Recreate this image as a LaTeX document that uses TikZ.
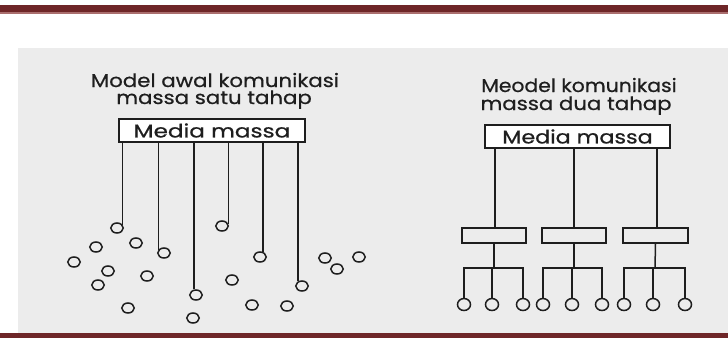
\documentclass[tikz,border=0pt]{standalone}
\usepackage{graphicx}
\usepackage{fontspec}
\setmainfont{Poppins}
\newfontfamily\ttlfont{Poppins}[FakeBold=0.6]
\usetikzlibrary{shapes.geometric}
\definecolor{barred}{RGB}{110,38,40}
\definecolor{barlight}{RGB}{170,110,110}
\definecolor{inkc}{RGB}{30,30,30}
\definecolor{paper}{RGB}{236,236,236}
\newcommand{\widen}[2]{\scalebox{#1}[1]{#2}}
\tikzset{
  ttl/.style={font=\ttlfont\fontsize{18.5}{18.5}\selectfont, text=inkc, inner sep=0pt, anchor=base},
  mbox/.style={draw=inkc, line width=1.5pt, fill=white, minimum width=186pt, minimum height=23pt, inner sep=0pt, font=\ttlfont\fontsize{18.5}{18.5}\selectfont, text=inkc},
  sbox/.style={draw=inkc, line width=1.4pt, minimum width=64pt, minimum height=15pt, inner sep=0pt},
  dot/.style={draw=inkc, line width=1.5pt, ellipse, minimum width=12.5pt, minimum height=10pt, inner sep=0pt},
  dotb/.style={draw=inkc, line width=1.5pt, ellipse, minimum width=13pt, minimum height=12pt, inner sep=0pt},
  wire/.style={draw=inkc, line width=1.5pt}
}
\begin{document}
\begin{tikzpicture}[x=1pt,y=-1pt]
\useasboundingbox (0,0) rectangle (728,338);
% page background
\fill[white] (0,0) rectangle (728,338);
\fill[paper] (18,48) rectangle (728,333);
% top and bottom bars
\fill[barred] (0,5) rectangle (728,12);
\fill[barlight] (0,12) rectangle (728,13.5);
\fill[barred] (0,333) rectangle (728,338);

% ---------- left diagram ----------
\node[ttl] (t1a) at (215,87) {\widen{1.15}{Model awal komunikasi}};
\node[ttl] (t1b) at (214,104) {\widen{1.15}{massa satu tahap}};
\node[mbox] (m1) at (212,130.5) {\raisebox{-1pt}{\widen{1.25}{Media massa}}};
\node[dot] (c1) at (117,228) {};
\node[dot] (c2) at (164,253) {};
\node[dot] (c3) at (196,295) {};
\node[dot] (c4) at (222,226) {};
\node[dot] (c5) at (260,257) {};
\node[dot] (c6) at (302,286) {};
\draw[wire] (c1.30) -- (c1.30 |- m1.south);
\draw[wire] (c2.150) -- (c2.150 |- m1.south);
\draw[wire] (c3.110) -- (c3.110 |- m1.south);
\draw[wire] (c4.20) -- (c4.20 |- m1.south);
\draw[wire] (c5.60) -- (c5.60 |- m1.south);
\draw[wire] (c6.130) -- (c6.130 |- m1.south);
% scattered audience
\node[dot] (f1) at (96,247) {};
\node[dot] (f2) at (136,243) {};
\node[dot] (f3) at (74,262) {};
\node[dot] (f4) at (108,271) {};
\node[dot] (f5) at (98,285) {};
\node[dot] (f6) at (147,276) {};
\node[dot] (f7) at (128,308) {};
\node[dot] (f8) at (193,318) {};
\node[dot] (f9) at (232,280) {};
\node[dot] (f10) at (252,305) {};
\node[dot] (f11) at (287,306) {};
\node[dot] (f12) at (325,258) {};
\node[dot] (f13) at (337,269) {};
\node[dot] (f14) at (359,257) {};

% ---------- right diagram ----------
\node[ttl] (t2a) at (579,92) {\widen{1.1}{Meodel komunikasi}};
\node[ttl] (t2b) at (576,110) {\widen{1.15}{massa dua tahap}};
\node[mbox, minimum width=185pt] (m2) at (577.5,136.5) {\raisebox{-1pt}{\widen{1.2}{Media massa}}};
\node[sbox] (s1) at (494,235.5) {};
\node[sbox] (s2) at (574,235.5) {};
\node[sbox, minimum width=65pt] (s3) at (655.5,235.5) {};
\draw[wire] (s1.north -| 495,0) -- (m2.south -| 495,0);
\draw[wire] (s2.north) -- (s2.north |- m2.south);
\draw[wire] (s3.north -| 657,0) -- (m2.south -| 657,0);
\coordinate (j1) at (494,268);
\coordinate (j2) at (574,268);
\coordinate (j3) at (655,268);
\draw[wire] (s1.south) -- (j1);
\draw[wire] (s2.south) -- (j2);
\draw[wire] (s3.south) -- (j3);
\node[dotb] (d11) at (464,304.5) {};
\node[dotb] (d12) at (492,304.5) {};
\node[dotb] (d13) at (523,304.5) {};
\node[dotb] (d21) at (543,304.5) {};
\node[dotb] (d22) at (572,304.5) {};
\node[dotb] (d23) at (602,304.5) {};
\node[dotb] (d31) at (624,304.5) {};
\node[dotb] (d32) at (653,304.5) {};
\node[dotb] (d33) at (685,304.5) {};
\draw[wire] (d11.north) |- (j1) -| (d13.north);
\draw[wire] (d12.north) -- (d12.north |- j1);
\draw[wire] (d21.north) |- (j2) -| (d23.north);
\draw[wire] (d22.north) -- (d22.north |- j2);
\draw[wire] (d31.north) |- (j3) -| (d33.north);
\draw[wire] (d32.north) -- (d32.north |- j3);
\end{tikzpicture}
\end{document}
